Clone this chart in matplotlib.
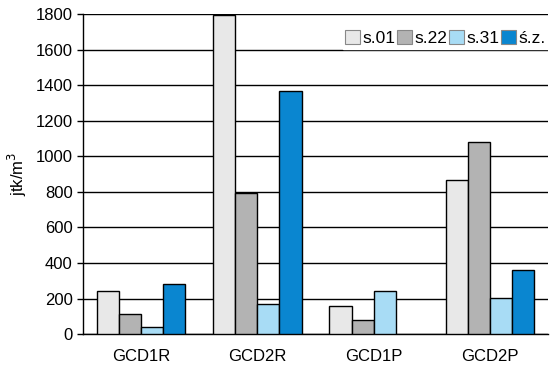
import matplotlib
matplotlib.use("Agg")
import matplotlib.pyplot as plt
import numpy as np

plt.rcParams['font.family'] = ['Liberation Sans', 'DejaVu Sans']

categories = ["GCD1R", "GCD2R", "GCD1P", "GCD2P"]
series_names = ["s.01", "s.22", "s.31", "ś.z."]
s01 = [240, 1795, 160, 865]
s22 = [115, 795, 80, 1080]
s31 = [40, 170, 240, 205]
sz = [280, 1365, 0, 362]
colors = ["#e8e8e8", "#b3b3b3", "#a8dcf5", "#0a86d0"]

fig = plt.figure(figsize=(5.54, 3.70), dpi=100)
ax = fig.add_axes([0.150, 0.097, 0.839, 0.865])

x = np.arange(len(categories))
w = 0.19
for i, (vals, c, name) in enumerate(zip([s01, s22, s31, sz], colors, series_names)):
    lws = [1.0 if v > 0 else 0.0 for v in vals]
    ax.bar(x + (i - 1.5) * w, vals, width=w, color=c, edgecolor="black", linewidth=lws,
           label=name, zorder=3)

ax.set_xlim(-0.5, 3.5)
ax.set_ylim(0, 1800)
ax.set_yticks(range(0, 1801, 200))
ax.yaxis.grid(True, color="black", linewidth=1.0, zorder=0)
ax.set_axisbelow(True)
ax.set_xticks(x)
ax.set_xticklabels(categories, fontsize=12)
ax.tick_params(axis='x', length=0, pad=11)
ax.tick_params(axis='y', labelsize=12, length=4, width=1, direction='out')
for s in ["top", "right"]:
    ax.spines[s].set_visible(False)
ax.spines["left"].set_linewidth(1.0)
ax.spines["bottom"].set_linewidth(1.0)
ax.set_ylabel("jtk/m$^3$", fontsize=12, labelpad=5)

leg = ax.legend(loc="upper right", bbox_to_anchor=(1.02, 0.985), ncol=4, frameon=True,
                prop={'size': 12.5}, handlelength=0.85, handleheight=0.85,
                handletextpad=0.15, columnspacing=0.1, borderpad=0.15, fancybox=False)
leg.get_frame().set_edgecolor("white")
leg.get_frame().set_facecolor("white")
leg.get_frame().set_alpha(1)
for p in leg.get_patches():
    p.set_edgecolor("#888888")
    p.set_linewidth(0.8)

fig.savefig("out.png", dpi=100)
